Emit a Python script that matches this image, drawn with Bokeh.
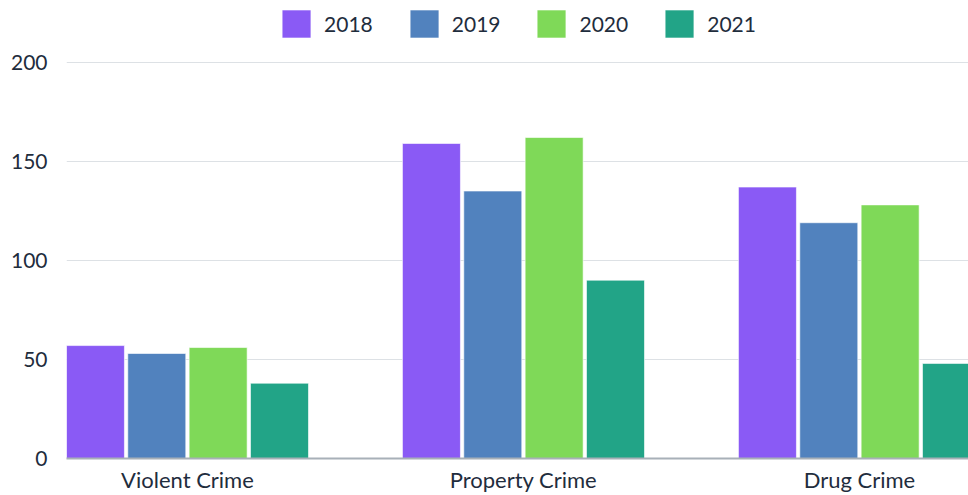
from bokeh.plotting import figure
from bokeh.models import ColumnDataSource, Range1d, FixedTicker, Legend, LegendItem
from bokeh.embed import file_html
from bokeh.resources import INLINE

categories = ["Violent Crime", "Property Crime", "Drug Crime"]
years = ["2018", "2019", "2020", "2021"]
v2018 = [57, 159, 137]
v2019 = [53, 135, 119]
v2020 = [56, 162, 128]
v2021 = [38, 90, 48]
y_ticks = [0, 50, 100, 150, 200]

series = [v2018, v2019, v2020, v2021]
colors = ["#8a5af5", "#5182be", "#7fd958", "#22a487"]

FONT = "Lato"
TXT = "#1f2d3d"

slot = 0.1826
bar_w = 0.1726

p = figure(width=968, height=495, output_backend="svg", toolbar_location=None,
           x_range=Range1d(0.14, 0.14 + 902 / 336), y_range=Range1d(0, 200 * 460 / 398),
           min_border_left=66, min_border_right=0, min_border_top=0, min_border_bottom=35)

items = []
for j, (yr, vals, c) in enumerate(zip(years, series, colors)):
    off = (j - 1.5) * slot
    src = ColumnDataSource(dict(x=[i + 0.5 + off for i in range(len(categories))], top=vals))
    r = p.vbar(x="x", top="top", width=bar_w, bottom=0, source=src,
               fill_color=c, line_color="white", line_alpha=0.6, line_width=1)
    items.append(LegendItem(label=yr, renderers=[r]))

legend = Legend(items=items, orientation="horizontal", location="top_center",
                glyph_width=36, glyph_height=35, label_standoff=10, spacing=33,
                padding=0, margin=6, border_line_color=None, background_fill_alpha=0,
                label_text_font=FONT, label_text_font_size="21px", label_text_color=TXT)
p.add_layout(legend, "center")

p.outline_line_color = None
p.xgrid.grid_line_color = None
p.ygrid.grid_line_color = "#dde1e5"
p.ygrid.grid_line_width = 1
p.yaxis.ticker = FixedTicker(ticks=y_ticks)
p.yaxis.axis_line_color = None
p.yaxis.major_tick_line_color = None
p.yaxis.minor_tick_line_color = None
p.yaxis.major_tick_out = 0
p.yaxis.major_tick_in = 0
p.yaxis.major_label_standoff = 19
p.yaxis.major_label_text_font = FONT
p.yaxis.major_label_text_font_size = "21px"
p.yaxis.major_label_text_color = TXT

p.xaxis.ticker = FixedTicker(ticks=[i + 0.5 for i in range(len(categories))])
p.xaxis.major_label_overrides = {i + 0.5: c for i, c in enumerate(categories)}
p.xaxis.axis_line_color = "#a8b0b8"
p.xaxis.axis_line_width = 2
p.xaxis.major_tick_line_color = None
p.xaxis.minor_tick_line_color = None
p.xaxis.major_tick_out = 0
p.xaxis.major_tick_in = 0
p.xaxis.major_label_standoff = 7
p.xaxis.major_label_text_font = FONT
p.xaxis.major_label_text_font_size = "22px"
p.xaxis.major_label_text_color = TXT

open("out.html", "w").write(file_html(p, INLINE))
